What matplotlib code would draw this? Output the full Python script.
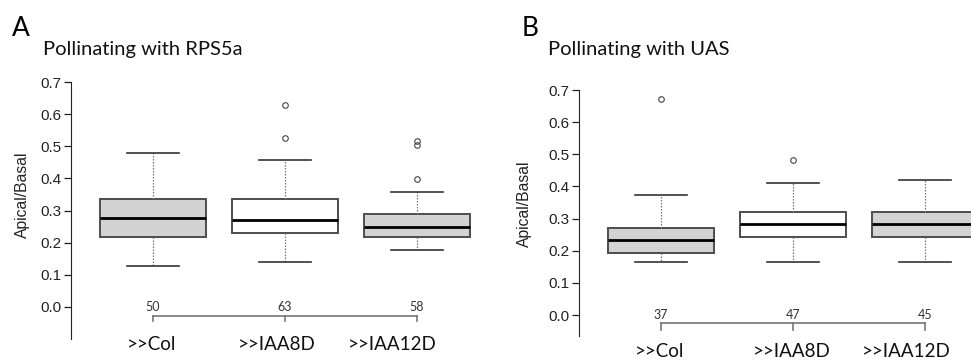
import matplotlib
matplotlib.use("Agg")
import matplotlib.pyplot as plt

# ---- data ----
groups = [">>Col", ">>IAA8D", ">>IAA12D"]

a_title = "Pollinating with RPS5a"
a_q1 = [0.219, 0.229, 0.219]
a_med = [0.276, 0.271, 0.250]
a_q3 = [0.336, 0.336, 0.289]
a_lo = [0.128, 0.139, 0.177]
a_hi = [0.478, 0.457, 0.357]
a_out = [[], [0.527, 0.628], [0.397, 0.505, 0.517]]
a_n = [50, 63, 58]

b_title = "Pollinating with UAS"
b_q1 = [0.192, 0.242, 0.242]
b_med = [0.232, 0.283, 0.283]
b_q3 = [0.272, 0.321, 0.321]
b_lo = [0.164, 0.164, 0.164]
b_hi = [0.372, 0.412, 0.420]
b_out = [[0.671], [0.481], []]
b_n = [37, 47, 45]

fills = ["#d3d3d3", "#ffffff", "#d3d3d3"]
yticks = [0.0, 0.1, 0.2, 0.3, 0.4, 0.5, 0.6, 0.7]

W, H = 971, 361
LABEL_FONT = "Lato"
TICK_FONT = "Liberation Sans"


def px(x0, y0, x1, y1):
    """pixel box (left, top, right, bottom) -> figure rect"""
    return [x0 / W, (H - y1) / H, (x1 - x0) / W, (y1 - y0) / H]


def panel(fig, rect, ylim, q1, med, q3, lo, hi, out, n, label_x, label_y,
          bracket_y):
    ax = fig.add_axes(rect)
    stats = []
    for i in range(len(groups)):
        stats.append(dict(med=med[i], q1=q1[i], q3=q3[i], whislo=lo[i],
                          whishi=hi[i], fliers=out[i], label=groups[i]))
    pos = [1, 2, 3]
    bp = ax.bxp(stats, positions=pos, widths=0.8, capwidths=0.4,
                patch_artist=True, manage_ticks=False,
                boxprops=dict(edgecolor="#4d4d4d", linewidth=1.4),
                medianprops=dict(color="black", linewidth=2.0),
                whiskerprops=dict(color="#777777", linewidth=0.9, linestyle=(0, (1.2, 1.2))),
                capprops=dict(color="#333333", linewidth=1.2),
                flierprops=dict(marker="o", markersize=4, markerfacecolor="none",
                                markeredgecolor="#444444", markeredgewidth=0.8))
    for patch, c in zip(bp["boxes"], fills):
        patch.set_facecolor(c)

    ax.set_xlim(0.379, 3.5)
    ax.set_ylim(*ylim)
    for s in ["top", "right", "bottom"]:
        ax.spines[s].set_visible(False)
    ax.spines["left"].set_bounds(ylim[0], 0.7)
    ax.spines["left"].set_color("#222222")
    ax.set_xticks([])
    ax.set_yticks(yticks)
    ax.set_yticklabels([f"{v:.1f}" for v in yticks],
                       fontfamily=TICK_FONT, fontsize=11, color="#222222")
    ax.tick_params(axis="y", length=5, width=0.9, color="#222222", pad=2)
    ax.patch.set_alpha(0)

    # sample sizes and the bracket under them
    for p, v in zip(pos, n):
        ax.text(p, 0.0, str(v), ha="center", va="center", fontsize=9,
                fontfamily=LABEL_FONT, color="#333333")
    ax.plot([pos[0], pos[-1]], [bracket_y, bracket_y], color="#777777",
            lw=1.2, clip_on=False)
    for p in pos:
        ax.plot([p, p], [bracket_y, -0.045], color="#777777", lw=1.2, clip_on=False)

    for lx, g in zip(label_x, groups):
        ax.text(lx, label_y, g, ha="center", va="center", fontsize=13.5,
                fontfamily=LABEL_FONT, color="#111111", clip_on=False)
    ax.set_ylabel("Apical/Basal", fontfamily=TICK_FONT, fontsize=11.3,
                  color="#222222")
    return ax


fig = plt.figure(figsize=(W / 100, H / 100), dpi=100)

ax_a = panel(fig, px(71, 82, 71 + 3.121 * 132, 339), (-0.1, 0.7),
             a_q1, a_med, a_q3, a_lo, a_hi, a_out, a_n,
             label_x=[0.99, 1.94, 2.81], label_y=-0.118, bracket_y=-0.028)
ax_a.yaxis.set_label_coords(-0.0995, 0.56)

ax_b = panel(fig, px(579, 90, 579 + 3.121 * 132, 336), (-0.065, 0.7),
             b_q1, b_med, b_q3, b_lo, b_hi, b_out, b_n,
             label_x=[0.99, 1.99, 2.86], label_y=-0.112, bracket_y=-0.025)
ax_b.yaxis.set_label_coords(-0.114, 0.537)

# panel letters and titles
fig.text(12 / W, 1 - 29 / H, "A", fontsize=19, fontfamily=LABEL_FONT, va="center", ha="left")
fig.text(43 / W, 1 - 50 / H, a_title, fontsize=14.5, fontfamily=LABEL_FONT,
         va="center", ha="left", color="#111111")
fig.text(522 / W, 1 - 28 / H, "B", fontsize=19, fontfamily=LABEL_FONT, va="center", ha="left")
fig.text(548 / W, 1 - 50 / H, b_title, fontsize=14.5, fontfamily=LABEL_FONT,
         va="center", ha="left", color="#111111")

fig.savefig("out.png", dpi=100)
